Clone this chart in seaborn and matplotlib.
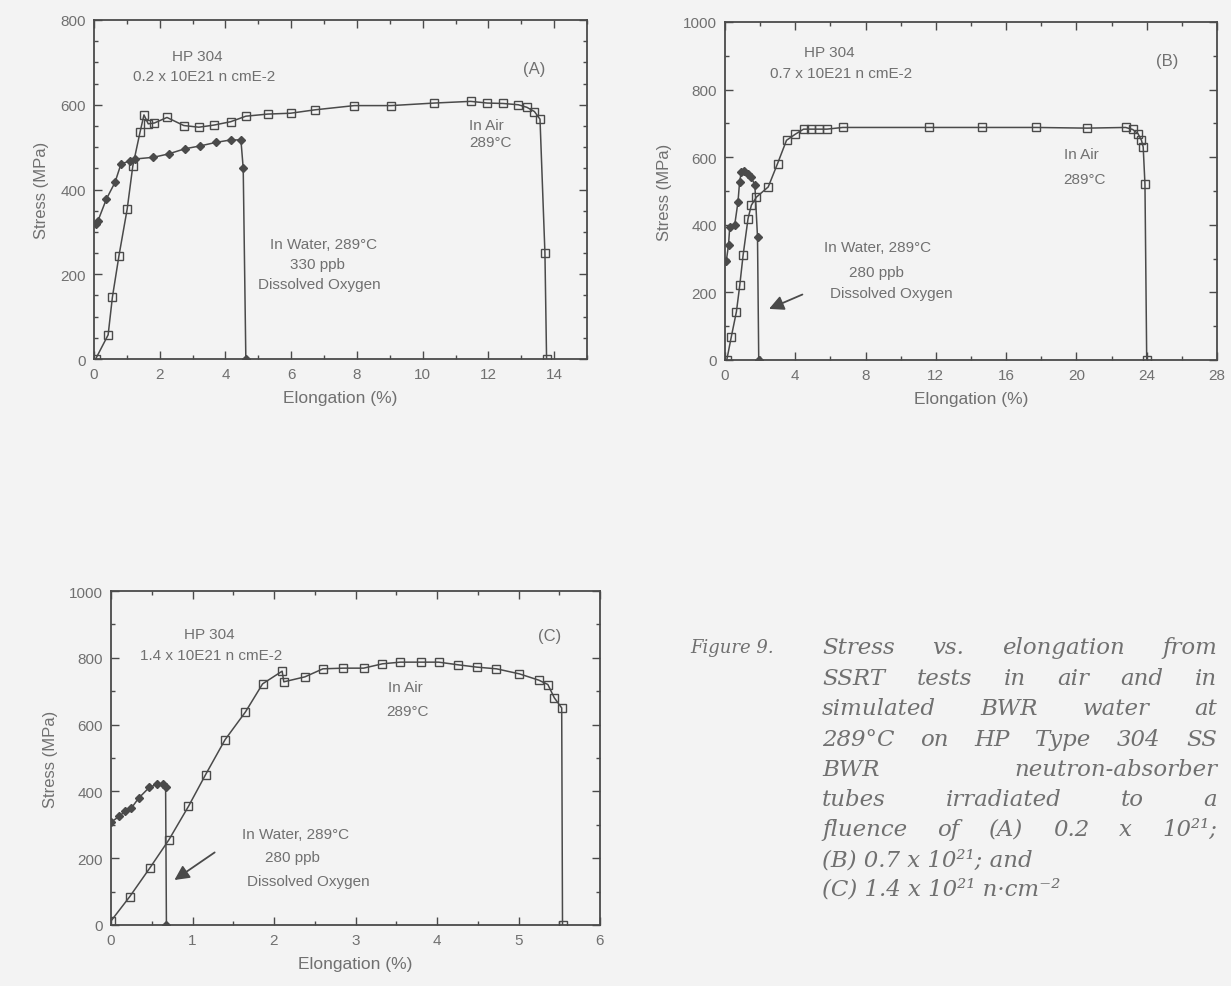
import matplotlib
matplotlib.use('Agg')
import matplotlib.pyplot as plt
from matplotlib.ticker import MultipleLocator
import seaborn as sns

# ------------------------------------------------------------------
# data (elongation %, stress MPa)
# ------------------------------------------------------------------
# panel A : 0.2 x 10E21 n/cm2
air_a_x = [0.05, 0.43, 0.56, 0.76, 1.01, 1.18, 1.40, 1.52, 1.65, 1.84, 2.22, 2.73, 3.19,
           3.65, 4.16, 4.62, 5.29, 5.98, 6.72, 7.92, 9.04, 10.35, 11.46, 11.97, 12.45,
           12.91, 13.17, 13.40, 13.57, 13.72, 13.77]
air_a_y = [0, 57, 146, 244, 354, 455, 535, 576, 555, 557, 570, 551, 547,
           552, 560, 573, 578, 580, 588, 598, 598, 604, 608, 604, 603,
           600, 594, 584, 566, 250, 0]
water_a_x = [0.06, 0.12, 0.38, 0.64, 0.82, 1.10, 1.25, 1.81, 2.27, 2.76, 3.24, 3.70,
             4.16, 4.47, 4.54, 4.62]
water_a_y = [318, 326, 378, 417, 460, 468, 472, 476, 484, 496, 503, 511,
             517, 517, 450, 0]

# panel B : 0.7 x 10E21 n/cm2
air_b_x = [0.10, 0.36, 0.65, 0.84, 1.03, 1.31, 1.50, 1.79, 2.46, 2.99, 3.50, 4.00,
           4.47, 4.90, 5.37, 5.80, 6.70, 11.60, 14.65, 17.70, 20.60, 22.80, 23.20,
           23.50, 23.70, 23.80, 23.90, 24.00]
air_b_y = [0, 69, 143, 221, 310, 418, 458, 482, 512, 581, 650, 668,
           683, 683, 683, 683, 688, 688, 688, 688, 686, 688, 682,
           670, 650, 630, 520, 0]
water_b_x = [0.07, 0.20, 0.27, 0.55, 0.74, 0.83, 0.93, 1.10, 1.31, 1.50, 1.70, 1.85, 1.92]
water_b_y = [292, 340, 394, 399, 468, 527, 556, 558, 551, 540, 517, 364, 0]

# panel C : 1.4 x 10E21 n/cm2
air_c_x = [0.0, 0.23, 0.48, 0.71, 0.95, 1.16, 1.40, 1.65, 1.86, 2.10, 2.12, 2.38, 2.60,
           2.85, 3.10, 3.33, 3.55, 3.80, 4.02, 4.26, 4.49, 4.73, 5.01, 5.25, 5.36,
           5.44, 5.53, 5.54]
air_c_y = [12, 85, 172, 255, 355, 450, 555, 638, 722, 760, 728, 743, 767,
           769, 769, 782, 787, 787, 787, 779, 772, 767, 752, 733, 720,
           680, 650, 0]
water_c_x = [0.0, 0.10, 0.17, 0.25, 0.34, 0.47, 0.57, 0.64, 0.67, 0.68]
water_c_y = [308, 325, 340, 350, 380, 412, 422, 422, 413, 0]

panel_tags = ['(A)', '(B)', '(C)']
fluence_labels = ['0.2 x 10E21 n cmE-2', '0.7 x 10E21 n cmE-2', '1.4 x 10E21 n cmE-2']
oxygen_labels = ['330 ppb', '280 ppb', '280 ppb']

caption_lines = [
    'Stress vs. elongation from',
    'SSRT tests in air and in',
    'simulated BWR water at',
    '289°C on HP Type 304 SS',
    'BWR neutron-absorber',
    'tubes irradiated to a',
    'fluence of (A) 0.2 x 10²¹;',
    '(B) 0.7 x 10²¹; and',
    '(C) 1.4 x 10²¹ n·cm⁻²',
]

# ------------------------------------------------------------------
sns.set_style('ticks')
plt.rcParams['font.family'] = ['Liberation Sans', 'DejaVu Sans']

PAPER = '#f3f3f3'
INK = '#4a4a4a'
TXT = '#707070'
W, H = 1231, 987

fig = plt.figure(figsize=(W / 100, H / 100), dpi=100, facecolor=PAPER)


def px_axes(left, top, right, bottom):
    return fig.add_axes([left / W, 1 - bottom / H, (right - left) / W, (bottom - top) / H])


ax_a = px_axes(94, 21, 587, 360)
ax_b = px_axes(725, 23, 1217, 361)
ax_c = px_axes(111, 592, 600, 926)


def curve(ax, x, y, marker, filled, ms):
    sns.lineplot(x=x, y=y, ax=ax, sort=False, estimator=None, color=INK, linewidth=1.1,
                 marker=marker, markersize=ms, markeredgewidth=1.0, markeredgecolor=INK,
                 markerfacecolor=INK if filled else 'none', zorder=3)


def style_axes(ax, xlim, ylim, xmaj, xmin, ymaj, ymin):
    ax.set_facecolor(PAPER)
    ax.set_xlim(*xlim)
    ax.set_ylim(*ylim)
    ax.xaxis.set_major_locator(MultipleLocator(xmaj))
    ax.xaxis.set_minor_locator(MultipleLocator(xmin))
    ax.yaxis.set_major_locator(MultipleLocator(ymaj))
    ax.yaxis.set_minor_locator(MultipleLocator(ymin))
    ax.tick_params(which='both', direction='in', top=True, right=True, color=INK,
                   labelcolor=TXT, labelsize=11, width=1.0)
    ax.tick_params(which='major', length=6, pad=6)
    ax.tick_params(which='minor', length=3)
    for s in ax.spines.values():
        s.set_visible(True)
        s.set_color(INK)
        s.set_linewidth(1.3)
    ax.set_xlabel('Elongation (%)', fontsize=12.5, color=TXT, labelpad=6)
    ax.set_ylabel('Stress (MPa)', fontsize=12, color=TXT, labelpad=8)


def notes(ax, i, pos):
    kw = dict(transform=ax.transAxes, ha='center', va='center', color=TXT, fontsize=11)
    ax.text(*pos['hp'], 'HP 304', **kw)
    ax.text(*pos['flu'], fluence_labels[i], **kw)
    ax.text(*pos['tag'], panel_tags[i], **{**kw, 'fontsize': 12})
    ax.text(*pos['air'], 'In Air', **kw)
    ax.text(*pos['t'], '289°C', **kw)
    ax.text(*pos['w1'], 'In Water, 289°C', **kw)
    ax.text(*pos['w2'], oxygen_labels[i], **kw)
    ax.text(*pos['w3'], 'Dissolved Oxygen', **kw)


# ---- panel A
curve(ax_a, air_a_x, air_a_y, 's', False, 6)
curve(ax_a, water_a_x, water_a_y, 'D', True, 4.5)
style_axes(ax_a, (0, 15), (0, 800), 2, 1, 200, 50)
ax_a.set_xticks(range(0, 15, 2))
notes(ax_a, 0, dict(hp=(0.209, 0.894), flu=(0.223, 0.835), tag=(0.893, 0.856),
                    air=(0.795, 0.69), t=(0.805, 0.64),
                    w1=(0.465, 0.339), w2=(0.454, 0.280), w3=(0.458, 0.221)))

# ---- panel B
curve(ax_b, air_b_x, air_b_y, 's', False, 6)
curve(ax_b, water_b_x, water_b_y, 'D', True, 4.5)
style_axes(ax_b, (0, 28), (0, 1000), 4, 2, 200, 100)
notes(ax_b, 1, dict(hp=(0.213, 0.911), flu=(0.236, 0.849), tag=(0.898, 0.885),
                    air=(0.724, 0.609), t=(0.73, 0.536),
                    w1=(0.311, 0.334), w2=(0.307, 0.260), w3=(0.339, 0.198)))
ax_b.annotate('', xy=(2.36, 148), xytext=(4.55, 197),
              arrowprops=dict(arrowstyle='-|>', color=INK, lw=1.3, mutation_scale=22))

# ---- panel C
curve(ax_c, air_c_x, air_c_y, 's', False, 6)
curve(ax_c, water_c_x, water_c_y, 'D', True, 4.5)
style_axes(ax_c, (0, 6), (0, 1000), 1, 0.5, 200, 100)
notes(ax_c, 2, dict(hp=(0.202, 0.871), flu=(0.204, 0.808), tag=(0.896, 0.868),
                    air=(0.601, 0.713), t=(0.607, 0.641),
                    w1=(0.378, 0.273), w2=(0.372, 0.204), w3=(0.403, 0.132)))
ax_c.annotate('', xy=(0.75, 130), xytext=(1.30, 222),
              arrowprops=dict(arrowstyle='-|>', color=INK, lw=1.3, mutation_scale=22))

# ---- caption, justified like the scan
cap_kw = dict(family=['DejaVu Serif'], style='italic', fontsize=16.5, color=TXT,
              va='center', ha='left', transform=fig.transFigure)
fig.text(690 / W, 1 - 648 / H, 'Figure 9.', **{**cap_kw, 'fontsize': 13})
renderer = fig.canvas.get_renderer()
line_y = [648, 679, 709, 740, 770, 800, 830, 861, 890]
x0, x1 = 822, 1217
for k, (line, py) in enumerate(zip(caption_lines, line_y)):
    if k >= 7:
        fig.text(x0 / W, 1 - py / H, line, **cap_kw)
        continue
    words = [fig.text(0, 1 - py / H, w, **cap_kw) for w in line.split()]
    widths = [t.get_window_extent(renderer=renderer).width for t in words]
    gap = (x1 - x0 - sum(widths)) / (len(words) - 1)
    x = x0
    for t, wd in zip(words, widths):
        t.set_x(x / W)
        x += wd + gap

fig.savefig('out.png', dpi=100, facecolor=PAPER)
